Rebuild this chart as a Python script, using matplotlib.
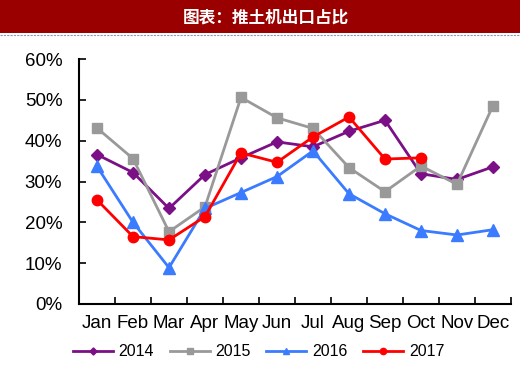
import matplotlib.pyplot as plt
from matplotlib.patches import Rectangle
from matplotlib.lines import Line2D
import numpy as np

months = ['Jan', 'Feb', 'Mar', 'Apr', 'May', 'Jun', 'Jul', 'Aug', 'Sep', 'Oct', 'Nov', 'Dec']
y2014 = [36.6, 32.2, 23.4, 31.7, 35.8, 39.7, 38.5, 42.3, 45.0, 31.9, 30.5, 33.6]
y2015 = [43.1, 35.6, 17.7, 23.8, 50.6, 45.6, 43.0, 33.4, 27.5, 33.8, 29.3, 48.6]
y2016 = [33.7, 20.0, 8.9, 23.4, 27.3, 31.2, 37.5, 27.0, 22.1, 18.0, 16.9, 18.2]
y2017 = [25.5, 16.5, 15.7, 21.4, 37.0, 34.7, 40.9, 45.8, 35.5, 35.8]
years = ['2014', '2015', '2016', '2017']

plt.rcParams['font.family'] = ['Liberation Sans', 'DejaVu Sans']

fig = plt.figure(figsize=(5.2, 3.65), dpi=100)

# title bar
fig.patches.append(Rectangle((0, 1 - 33 / 365), 1, 33 / 365, transform=fig.transFigure,
                             facecolor='#9a0000', edgecolor='none'))
fig.add_artist(Line2D([0, 1], [1 - 35 / 365, 1 - 35 / 365], transform=fig.transFigure,
                      color='#8a9ab8', lw=0.8, ls=(0, (2, 1))))
fig.text(0.512, 1 - 17 / 365, '图表：推土机出口占比', color='white', fontsize=12,
         fontweight='bold', ha='center', va='center',
         family=['Noto Sans CJK SC', 'DejaVu Sans'])

ax = fig.add_axes([79 / 520, 1 - 304 / 365, 432 / 520, 245 / 365])
x = np.arange(len(months))
styles = [
    (y2014, '#7b0f85', 'D', 6),
    (y2015, '#999999', 's', 7),
    (y2016, '#3a7bff', '^', 8),
    (y2017, '#ff0000', 'o', 7.5),
]
for (vals, col, mk, ms), lab in zip(styles, years):
    ax.plot(x[:len(vals)], vals, color=col, marker=mk, ms=ms, lw=2, label=lab)

ax.set_xlim(-0.5, 11.5)
ax.set_ylim(0, 60)
ax.set_yticks(range(0, 61, 10))
ax.set_yticklabels([f'{v}%' for v in range(0, 61, 10)], fontsize=13.5)
ax.set_xticks(x)
ax.set_xticklabels(months, fontsize=13.5)
ax.tick_params(axis='x', length=0, pad=8)
ax.set_xticks(np.arange(0.5, 12, 1), minor=True)
ax.tick_params(axis='x', which='minor', length=5, width=1.2, direction='in')
ax.tick_params(axis='y', length=5, width=1.2, direction='in', pad=12)
for s in ['top', 'right']:
    ax.spines[s].set_visible(False)
for s in ['left', 'bottom']:
    ax.spines[s].set_linewidth(1.5)

fig.legend(loc='center', bbox_to_anchor=(0.497, 1 - 352 / 365), ncol=4, frameon=False,
           fontsize=11.5, handlelength=2.5, columnspacing=1.0, handletextpad=0.35,
           markerscale=0.6)

fig.savefig('out.png', dpi=100)
